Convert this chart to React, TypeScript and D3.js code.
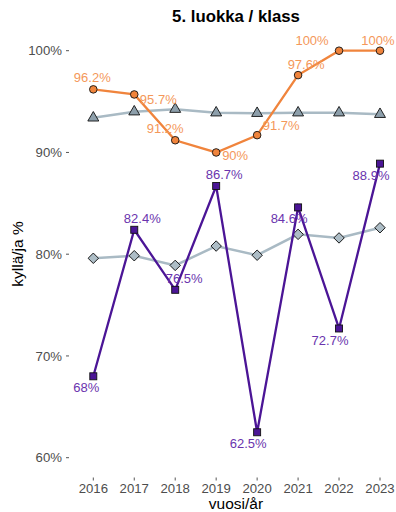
import React from "react";
import * as d3 from "d3";

const years = [2016, 2017, 2018, 2019, 2020, 2021, 2022, 2023];
const orangeVals = [96.2, 95.7, 91.2, 90, 91.7, 97.6, 100, 100];
const orangeRef = [93.4, 94.0, 94.25, 93.9, 93.85, 93.9, 93.9, 93.75];
const purpleVals = [68, 82.4, 76.5, 86.7, 62.5, 84.6, 72.7, 88.9];
const purpleRef = [79.6, 79.85, 78.9, 80.8, 79.9, 81.95, 81.6, 82.6];
const yTicks = [60, 70, 80, 90, 100];
// label offsets (dx, dy) in px relative to the point (repelled labels)
const orangeLabelOff: [number, number][] = [[-1, -11.5], [24, 5], [-10, -12], [19, 2.5], [24, -10], [8, -11], [-27, -10], [-2, -10]];
const purpleLabelOff: [number, number][] = [[-7, 11], [8, -11], [9, -11], [8, -11.5], [-9, 11], [-9, 10.6], [-9, 11.6], [-9, 11.4]];

const W = 396, H = 512;
const ORANGE = "#F0843C";
const ORANGE_TXT = "#F4985A";
const PURPLE = "#4B1596";
const PURPLE_TXT = "#6A34AE";
const GREYLINE = "#A9BAC4";

export default function App() {
  const x = d3.scalePoint<number>().domain(years).range([93.3, 380]);
  const y = d3.scaleLinear().domain([60, 100]).range([457.7, 50.7]);
  const line = d3.line<number>().x((_, i) => x(years[i])!).y((v) => y(v));
  const font = "Liberation Sans, Arial, sans-serif";
  const tri = d3.symbol().type(d3.symbolTriangle).size(52)()!;
  const ds = 7.4;
  return (
    <svg width={W} height={H} style={{ position: "absolute", left: 0, top: 0, fontFamily: font }}>
      <rect width={W} height={H} fill="#fff" />
      <text x={236} y={21.5} textAnchor="middle" fontSize={16.8} fontWeight="bold" fill="#000">5. luokka / klass</text>
      {yTicks.map((t) => (
        <g key={t}>
          <line x1={66} x2={69} y1={y(t)} y2={y(t)} stroke="#555" />
          <text x={62} y={y(t) + 4.6} textAnchor="end" fontSize={13.2} fill="#4d4d4d">{t}%</text>
        </g>
      ))}
      {years.map((yr) => (
        <g key={yr}>
          <line x1={x(yr)} x2={x(yr)} y1={477.5} y2={480.5} stroke="#555" />
          <text x={x(yr)} y={493} textAnchor="middle" fontSize={13.2} fill="#4d4d4d">{yr}</text>
        </g>
      ))}
      <text x={236} y={509} textAnchor="middle" fontSize={15.5} fill="#000">vuosi/år</text>
      <text transform={`translate(23,254) rotate(-90)`} textAnchor="middle" fontSize={15.5} fill="#000">kyllä/ja %</text>

      <path d={line(orangeRef)!} fill="none" stroke={GREYLINE} strokeWidth={2.5} />
      <path d={line(purpleRef)!} fill="none" stroke={GREYLINE} strokeWidth={2.5} />
      {orangeRef.map((v, i) => (
        <path key={"t" + i} d={tri} transform={`translate(${x(years[i])},${y(v)})`} fill="#8D9FAB" stroke="#111" strokeWidth={0.9} />
      ))}
      {purpleRef.map((v, i) => (
        <rect key={"d" + i} x={-ds / 2} y={-ds / 2} width={ds} height={ds} transform={`translate(${x(years[i])},${y(v)}) rotate(45)`} fill="#ADBDC6" stroke="#111" strokeWidth={0.9} />
      ))}

      <path d={line(orangeVals)!} fill="none" stroke={ORANGE} strokeWidth={2.3} />
      <path d={line(purpleVals)!} fill="none" stroke={PURPLE} strokeWidth={2.3} />
      {orangeVals.map((v, i) => (
        <circle key={"c" + i} cx={x(years[i])} cy={y(v)} r={3.8} fill={ORANGE} stroke="#111" strokeWidth={0.9} />
      ))}
      {purpleVals.map((v, i) => (
        <rect key={"s" + i} x={x(years[i])! - 3.5} y={y(v) - 3.5} width={7} height={7} fill={PURPLE} stroke="#111" strokeWidth={0.9} />
      ))}

      {orangeVals.map((v, i) => (
        <text key={"ol" + i} x={x(years[i])! + orangeLabelOff[i][0]} y={y(v) + orangeLabelOff[i][1] + 4.6} textAnchor="middle" fontSize={13} fill={ORANGE_TXT}>{v}%</text>
      ))}
      {purpleVals.map((v, i) => (
        <text key={"pl" + i} x={x(years[i])! + purpleLabelOff[i][0]} y={y(v) + purpleLabelOff[i][1] + 4.6} textAnchor="middle" fontSize={13} fill={PURPLE_TXT}>{v}%</text>
      ))}
    </svg>
  );
}
